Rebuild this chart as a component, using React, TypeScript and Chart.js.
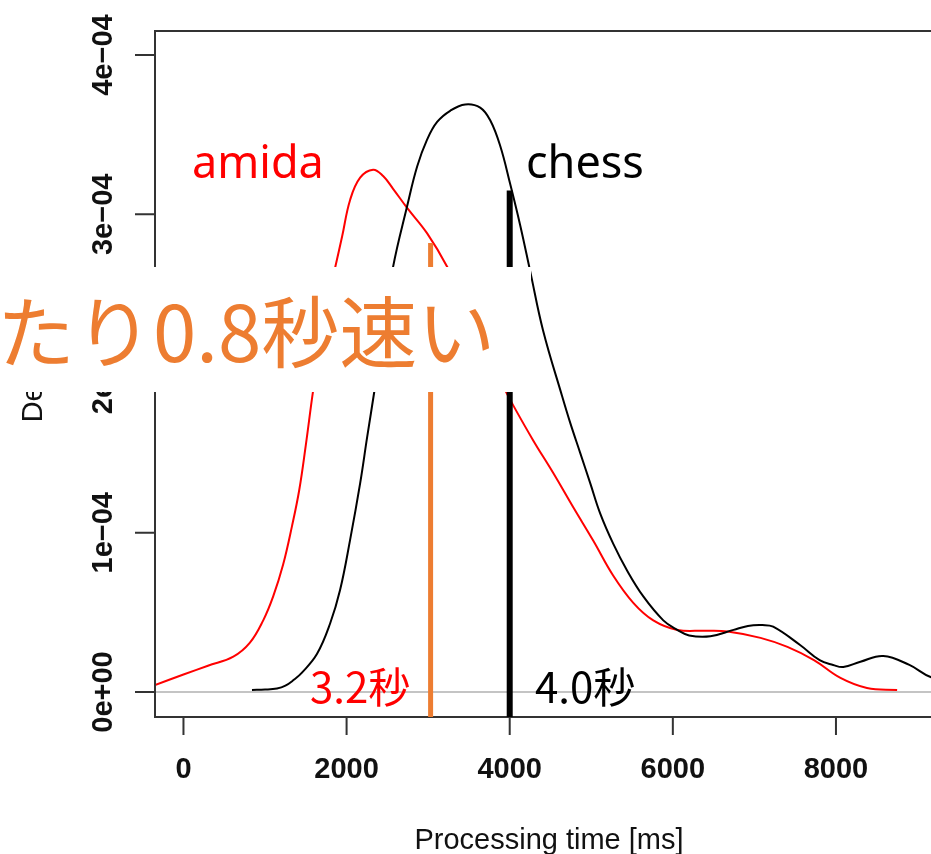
import React, { useEffect, useRef } from "react";
import { Chart, registerables } from "chart.js";
Chart.register(...registerables);

// Axis ranges / ticks
const X_MIN = -349;
const X_MAX = 9766;
const Y_MIN = -0.157e-4;
const Y_MAX = 4.151e-4;
const xTicks = [0, 2000, 4000, 6000, 8000];
const xTickLabels = ["0", "2000", "4000", "6000", "8000"];
const yTicks = [0, 1e-4, 2e-4, 3e-4, 4e-4];
const yTickLabels = ["0e+00", "1e\u221204", "2e\u221204", "3e\u221204", "4e\u221204"];
const xTitle = "Processing time [ms]";
const yTitle = "Density";

// amida density curve
const amidaX = [-349, 0, 300, 611, 815, 978, 1100, 1222, 1330, 1420, 1500, 1592, 1700, 1790, 1862, 1945, 2043, 2166, 2325, 2448, 2570, 2742, 2988, 3233, 3500, 3750, 3920, 4043, 4288, 4534, 4779, 5025, 5270, 5515, 5760, 6055, 6400, 6670, 7075, 7405, 7730, 8055, 8380, 8750];
const amidaY = [0.044e-4, 0.11e-4, 0.165e-4, 0.222e-4, 0.31e-4, 0.45e-4, 0.6e-4, 0.8e-4, 1.04e-4, 1.27e-4, 1.55e-4, 1.9e-4, 2.25e-4, 2.5e-4, 2.67e-4, 2.86e-4, 3.09e-4, 3.23e-4, 3.28e-4, 3.24e-4, 3.16e-4, 3.04e-4, 2.88e-4, 2.67e-4, 2.38e-4, 2.1e-4, 1.92e-4, 1.8e-4, 1.58e-4, 1.375e-4, 1.16e-4, 0.95e-4, 0.73e-4, 0.56e-4, 0.45e-4, 0.39e-4, 0.385e-4, 0.38e-4, 0.34e-4, 0.283e-4, 0.2e-4, 0.088e-4, 0.025e-4, 0.013e-4];

// chess density curve
const chessX = [840, 1000, 1147, 1250, 1350, 1450, 1638, 1798, 1920, 2043, 2166, 2252, 2350, 2460, 2570, 2742, 2865, 2988, 3110, 3270, 3454, 3638, 3761, 3883, 4006, 4129, 4252, 4409, 4641, 4742, 4865, 4988, 5110, 5270, 5442, 5638, 5883, 6055, 6200, 6460, 6745, 6920, 7100, 7230, 7560, 7800, 7966, 8090, 8300, 8580, 8900, 9160, 9500];
const chessY = [0.013e-4, 0.015e-4, 0.022e-4, 0.04e-4, 0.075e-4, 0.12e-4, 0.24e-4, 0.43e-4, 0.64e-4, 0.955e-4, 1.31e-4, 1.6e-4, 1.92e-4, 2.3e-4, 2.67e-4, 3.05e-4, 3.3e-4, 3.47e-4, 3.58e-4, 3.65e-4, 3.69e-4, 3.67e-4, 3.59e-4, 3.43e-4, 3.19e-4, 2.93e-4, 2.64e-4, 2.27e-4, 1.86e-4, 1.69e-4, 1.5e-4, 1.31e-4, 1.12e-4, 0.93e-4, 0.76e-4, 0.6e-4, 0.45e-4, 0.39e-4, 0.355e-4, 0.35e-4, 0.39e-4, 0.415e-4, 0.42e-4, 0.41e-4, 0.295e-4, 0.2e-4, 0.17e-4, 0.157e-4, 0.19e-4, 0.226e-4, 0.17e-4, 0.094e-4, 0.05e-4];

// mean markers
const markerX = [3030, 4000];
const markerTop = [2.82e-4, 3.15e-4];
const markerColors = ["#ED7D31", "#000000"];
const markerWidths = [5, 6];
const markerLabels = ["3.2秒", "4.0秒"];
const markerLabelColors = ["#ff0000", "#000000"];

const seriesNames = ["amida", "chess"];
const bannerText = "たり0.8秒速い";

export default function App() {
  const ref = useRef<HTMLCanvasElement | null>(null);
  useEffect(() => {
    const canvas = ref.current!;
    const overlay = {
      id: "overlay",
      beforeDatasetsDraw(chart: any) {
        const { ctx, chartArea: a, scales } = chart;
        const y0 = scales.y.getPixelForValue(0);
        ctx.save();
        ctx.strokeStyle = "#c4c4c4";
        ctx.lineWidth = 2;
        ctx.beginPath();
        ctx.moveTo(a.left, y0);
        ctx.lineTo(a.right, y0);
        ctx.stroke();
        ctx.restore();
      },
      afterDatasetsDraw(chart: any) {
        const { ctx, chartArea: a, scales } = chart;
        const xs = scales.x, ys = scales.y;
        ctx.save();
        // box
        ctx.strokeStyle = "#333";
        ctx.lineWidth = 2;
        ctx.beginPath();
        ctx.moveTo(a.right, a.top);
        ctx.lineTo(a.left, a.top);
        ctx.lineTo(a.left, a.bottom);
        ctx.lineTo(a.right, a.bottom);
        ctx.stroke();
        // ticks
        ctx.beginPath();
        xTicks.forEach((v) => {
          const px = xs.getPixelForValue(v);
          ctx.moveTo(px, a.bottom);
          ctx.lineTo(px, a.bottom + 18);
        });
        yTicks.forEach((v) => {
          const py = ys.getPixelForValue(v);
          ctx.moveTo(a.left, py);
          ctx.lineTo(a.left - 20, py);
        });
        ctx.stroke();
        ctx.fillStyle = "#111";
        ctx.font = "bold 29px 'Liberation Sans', Arial, sans-serif";
        ctx.textAlign = "center";
        ctx.textBaseline = "alphabetic";
        xTicks.forEach((v, i) => {
          ctx.fillText(xTickLabels[i], xs.getPixelForValue(v), a.bottom + 61);
        });
        yTicks.forEach((v, i) => {
          const py = ys.getPixelForValue(v);
          ctx.save();
          ctx.translate(a.left - 43, py);
          ctx.rotate(-Math.PI / 2);
          ctx.fillText(yTickLabels[i], 0, 0);
          ctx.restore();
        });
        ctx.font = "29px 'Liberation Sans', Arial, sans-serif";
        ctx.fillText(xTitle, 549, 849);
        ctx.save();
        ctx.translate(42, (a.top + a.bottom) / 2);
        ctx.rotate(-Math.PI / 2);
        ctx.fillText(yTitle, 0, 0);
        ctx.restore();
        // markers
        markerX.forEach((v, i) => {
          const px = xs.getPixelForValue(v);
          ctx.strokeStyle = markerColors[i];
          ctx.lineWidth = markerWidths[i];
          ctx.beginPath();
          ctx.moveTo(px, ys.getPixelForValue(markerTop[i]));
          ctx.lineTo(px, a.bottom);
          ctx.stroke();
        });
        // annotation texts
        ctx.textAlign = "left";
        ctx.font = "45px 'Noto Sans', sans-serif";
        ctx.fillStyle = "#ff0000";
        ctx.fillText(seriesNames[0], 192, 178);
        ctx.fillStyle = "#000";
        ctx.fillText(seriesNames[1], 526, 178);
        ctx.font = "42px 'Noto Sans CJK JP', sans-serif";
        ctx.fillStyle = markerLabelColors[0];
        ctx.fillText(markerLabels[0], 310, 703);
        ctx.fillStyle = markerLabelColors[1];
        ctx.fillText(markerLabels[1], 535, 703);
        // banner
        ctx.fillStyle = "#ffffff";
        ctx.fillRect(0, 267, 531, 125);
        ctx.fillStyle = "#ED7D31";
        ctx.font = "78px 'Noto Sans CJK JP', sans-serif";
        ctx.fillText(bannerText, -3, 362);
        ctx.restore();
      },
    };
    const chart = new Chart(canvas, {
      type: "line",
      data: {
        datasets: [
          {
            label: seriesNames[1],
            data: chessX.map((x, i) => ({ x, y: chessY[i] })),
            borderColor: "#000000",
            borderWidth: 2,
            pointRadius: 0,
            tension: 0.4,
          },
          {
            label: seriesNames[0],
            data: amidaX.map((x, i) => ({ x, y: amidaY[i] })),
            borderColor: "#ff0000",
            borderWidth: 2,
            pointRadius: 0,
            tension: 0.4,
          },
        ],
      },
      options: {
        responsive: false,
        animation: false,
        layout: { padding: { left: 155, top: 31, right: 20, bottom: 137 } },
        plugins: { legend: { display: false }, tooltip: { enabled: false } },
        scales: {
          x: { type: "linear", min: X_MIN, max: X_MAX, display: false },
          y: { type: "linear", min: Y_MIN, max: Y_MAX, display: false },
        },
      },
      plugins: [overlay],
    } as any);
    return () => chart.destroy();
  }, []);
  return (
    <div style={{ position: "fixed", left: 0, top: 0, width: 931, height: 854, overflow: "hidden", background: "#fff" }}>
      <canvas ref={ref} width={1000} height={854} style={{ display: "block" }} />
    </div>
  );
}
